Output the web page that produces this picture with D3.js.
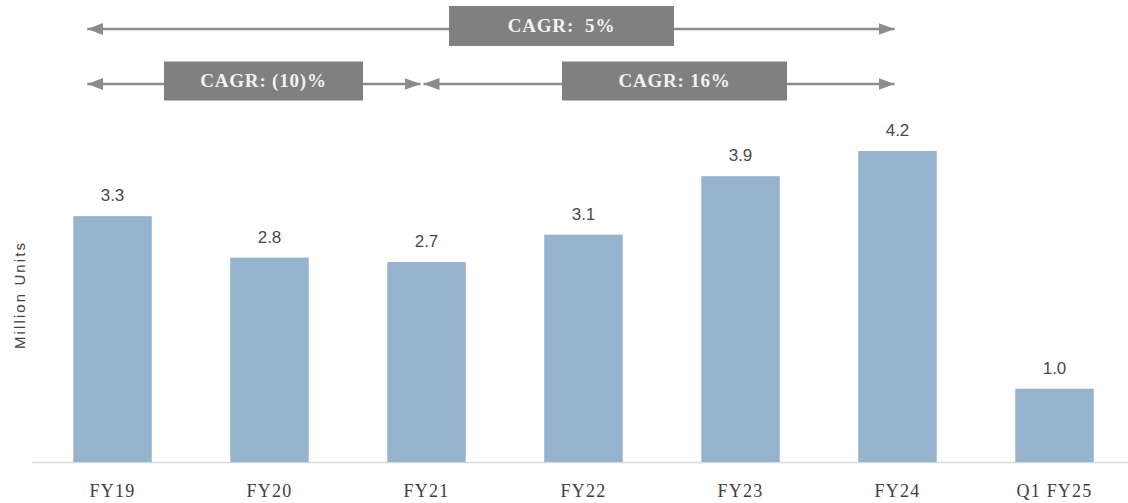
<!DOCTYPE html>
<html>
<head>
<meta charset="utf-8">
<script src="https://cdn.jsdelivr.net/npm/d3@7"></script>
<style>
    body { margin: 0; background: #fff; }
    text { white-space: pre; }
</style>
</head>
<body>
<svg id="chart" width="1128" height="503"></svg>
<script>
"use strict";

// categories and values (million units)
const categories = ["FY19", "FY20", "FY21", "FY22", "FY23", "FY24", "Q1 FY25"];
const units = [3.32, 2.76, 2.70, 3.07, 3.86, 4.2, 0.99];
const unitLabels = ["3.3", "2.8", "2.7", "3.1", "3.9", "4.2", "1.0"];

// CAGR brackets: from / to category, label, row
const cagrFrom = ["FY19", "FY19", "FY21"];
const cagrTo = ["FY24", "FY21", "FY24"];
const cagrText = ["CAGR:  5%", "CAGR: (10)%", "CAGR: 16%"];
const cagrRow = [0, 1, 1];

const svg = d3.select("#chart");
const W = 1128, H = 503;

const x = d3.scaleBand()
    .domain(categories)
    .range([34, 1133])
    .paddingInner(0.5)
    .paddingOuter(0.25);

const y = d3.scaleLinear()
    .domain([0, 4.2])
    .range([462, 151]);

const data = categories.map((c, i) => ({ name: c, value: units[i], label: unitLabels[i] }));

// baseline
svg.append("line")
    .attr("x1", 32).attr("x2", W)
    .attr("y1", y(0) + 0.5).attr("y2", y(0) + 0.5)
    .style("stroke", "#d9d9d9")
    .style("stroke-width", 1.5);

// bars
svg.selectAll(".bar").data(data).enter()
    .append("rect")
    .attr("class", "bar")
    .attr("x", d => x(d.name))
    .attr("y", d => y(d.value))
    .attr("width", x.bandwidth())
    .attr("height", d => y(0) - y(d.value))
    .style("fill", "#95b3cd");

// value labels
svg.selectAll(".val").data(data).enter()
    .append("text")
    .attr("class", "val")
    .attr("x", d => x(d.name) + x.bandwidth() / 2)
    .attr("y", d => y(d.value) - 15)
    .attr("text-anchor", "middle")
    .style("font-family", "'Liberation Sans', Arial, sans-serif")
    .style("font-size", "17px")
    .style("fill", "#4a4a4a")
    .text(d => d.label);

// x axis labels
const xAxis = d3.axisBottom(x).tickSize(0).tickPadding(0);
const gx = svg.append("g")
    .attr("transform", "translate(0," + y(0) + ")")
    .call(xAxis);
gx.select(".domain").remove();
gx.selectAll("text")
    .attr("y", 35)
    .attr("dy", 0)
    .style("font-family", "'Liberation Serif', 'Times New Roman', serif")
    .style("font-size", "18px")
    .style("letter-spacing", "1.2px")
    .style("fill", "#404040");

// y axis title
svg.append("text")
    .attr("transform", "translate(25,296) rotate(-90)")
    .attr("text-anchor", "middle")
    .style("font-family", "'Liberation Sans', Arial, sans-serif")
    .style("font-size", "15px")
    .style("fill", "#404040")
    .attr("textLength", 106)
    .text("Million Units");

// arrowheads
const defs = svg.append("defs");
defs.append("marker")
    .attr("id", "head")
    .attr("viewBox", "0 0 16 12")
    .attr("refX", 16).attr("refY", 6)
    .attr("markerWidth", 16).attr("markerHeight", 12)
    .attr("markerUnits", "userSpaceOnUse")
    .attr("orient", "auto-start-reverse")
    .append("path")
    .attr("d", "M0,0 L16,6 L0,12 Z")
    .style("fill", "#8c8c8c");

// CAGR brackets
const rowY = [29, 84];
const boxH = [40, 39];
const boxW = [225, 199, 225];
const mid = x.bandwidth() / 2;
const brackets = cagrText.map((t, i) => ({
    text: t,
    row: cagrRow[i],
    x1: cagrFrom[i] === "FY19" ? x(cagrFrom[i]) + 14 : x(cagrFrom[i]) + mid - 3,
    x2: cagrFrom[i] === "FY19" && cagrTo[i] === "FY21" ? x(cagrTo[i]) + mid - 6 : x(cagrTo[i]) + mid - 3
}));
// box centres (positions of the grey boxes)
const boxCx = [561.5, 263.5, 674.5];

const g = svg.selectAll(".cagr").data(brackets).enter()
    .append("g")
    .attr("class", "cagr");

g.append("line")
    .attr("x1", d => d.x1)
    .attr("x2", d => d.x2)
    .attr("y1", d => rowY[d.row])
    .attr("y2", d => rowY[d.row])
    .style("stroke", "#8c8c8c")
    .style("stroke-width", 2.5)
    .attr("marker-start", "url(#head)")
    .attr("marker-end", "url(#head)");

g.append("rect")
    .attr("x", (d, i) => boxCx[i] - boxW[i] / 2)
    .attr("y", d => rowY[d.row] - boxH[d.row] / 2 - 3)
    .attr("width", (d, i) => boxW[i])
    .attr("height", d => boxH[d.row])
    .style("fill", "#808080");

g.append("text")
    .attr("x", (d, i) => boxCx[i])
    .attr("y", d => rowY[d.row] + 3)
    .attr("text-anchor", "middle")
    .style("font-family", "'Liberation Serif', 'Times New Roman', serif")
    .style("font-weight", "bold")
    .style("font-size", "19px")
    .style("letter-spacing", "0.8px")
    .style("fill", "#f2f2f2")
    .text(d => d.text);
</script>
</body>
</html>
